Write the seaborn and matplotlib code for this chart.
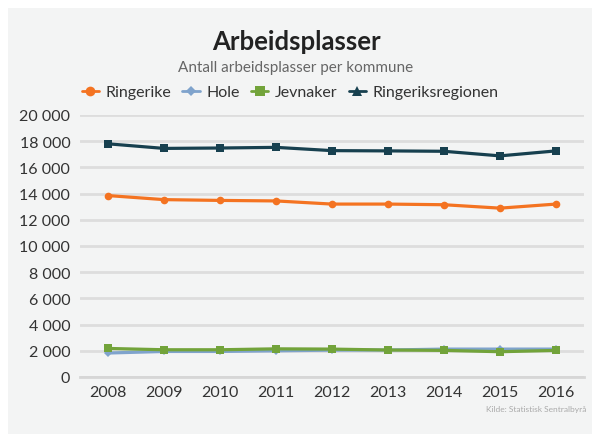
import matplotlib
matplotlib.use('Agg')
import matplotlib.pyplot as plt
import seaborn as sns
import pandas as pd
import numpy as np
from matplotlib.lines import Line2D
from matplotlib.patches import Rectangle
from matplotlib.ticker import FuncFormatter

# Data
years = ['2008', '2009', '2010', '2011', '2012', '2013', '2014', '2015', '2016']
ringerike = [13850, 13540, 13480, 13440, 13200, 13200, 13150, 12890, 13200]
hole = [1830, 1950, 1950, 2000, 2050, 2060, 2130, 2130, 2130]
jevnaker = [2180, 2080, 2080, 2150, 2130, 2060, 2030, 1930, 2030]
regionen = [17800, 17450, 17480, 17530, 17280, 17260, 17230, 16880, 17260]

series = ['Ringerike', 'Hole', 'Jevnaker', 'Ringeriksregionen']
colors = ['#f47321', '#7fa3cc', '#72a33a', '#17404f']
markers = ['o', 'D', 's', 's']
legend_markers = ['o', 'D', 's', '^']

data = pd.DataFrame({'year': years, 'Ringerike': ringerike, 'Hole': hole,
                     'Jevnaker': jevnaker, 'Ringeriksregionen': regionen})
long = data.melt(id_vars='year', var_name='kommune', value_name='antall')

sns.set_theme(style='white')
plt.rcParams['font.family'] = ['Lato', 'DejaVu Sans']

fig = plt.figure(figsize=(5.92, 4.35), dpi=100)
fig.patch.set_facecolor('white')
fig.patches.append(Rectangle((8 / 592, 0), 1, 1 - 9 / 435, transform=fig.transFigure,
                             facecolor='#f3f4f4', edgecolor='none', zorder=-5))

ax = fig.add_axes([80 / 592, 57 / 435, 504 / 592, 262 / 435])
ax.set_facecolor('none')
ax.set_zorder(2)

# draw in order so the dark region line is on top
for name, col, mk in zip(series, colors, markers):
    sub = long[long['kommune'] == name]
    sns.lineplot(data=sub, x='year', y='antall', color=col, marker=mk,
                 markersize=5.5 if mk != 'D' else 4, markeredgewidth=0,
                 linewidth=2.3, ax=ax, legend=False, sort=False)

ax.set_xlim(-0.5, len(years) - 0.5)
ax.set_ylim(0, 20000)
ax.set_yticks(np.arange(0, 20001, 2000))
ax.yaxis.set_major_formatter(FuncFormatter(lambda v, p: f'{int(v):,}'.replace(',', ' ')))
ax.grid(axis='y', color='#dddddd', linewidth=2)
ax.set_axisbelow(True)
for s in ['top', 'right', 'left']:
    ax.spines[s].set_visible(False)
ax.spines['bottom'].set_color('#d6d6d6')
ax.spines['bottom'].set_linewidth(2)
ax.set_xticks(np.arange(-0.5, len(years), 1), minor=False)
ax.set_xticklabels([])
ax.set_xticks(np.arange(len(years)), minor=True)
ax.set_xticklabels(years, minor=True)
ax.tick_params(axis='x', which='major', length=5, width=1.5, color='#d6d6d6', direction='out')
ax.tick_params(axis='x', which='minor', length=0, pad=6, labelsize=11.5, labelcolor='#333333')
ax.tick_params(axis='y', length=0, pad=7, labelsize=11.5, labelcolor='#333333')
ax.set_xlabel('')
ax.set_ylabel('')

fig.text(0.5, 1 - 42 / 435, 'Arbeidsplasser', ha='center', va='center',
         fontsize=18.5, fontweight='bold', color='#222222')
fig.text(0.5, 1 - 68 / 435, 'Antall arbeidsplasser per kommune', ha='center', va='center',
         fontsize=11, color='#666666')

handles = [Line2D([0], [0], color=c, marker=m, markersize=7 if m != 'D' else 5,
                  markeredgewidth=0, linewidth=2) for c, m in zip(colors, legend_markers)]
fig.legend(handles, series, loc='center', bbox_to_anchor=(0.49, 1 - 93 / 435), ncol=4,
           frameon=False, fontsize=11.5, handlelength=1.1, handletextpad=0.4,
           columnspacing=0.7, labelcolor='#333333')

fig.text(586 / 592, 1 - 410 / 435, 'Kilde: Statistisk Sentralbyrå', ha='right', va='center',
         fontsize=6, color='#aaaaaa')

plt.savefig('out.png', dpi=100)
